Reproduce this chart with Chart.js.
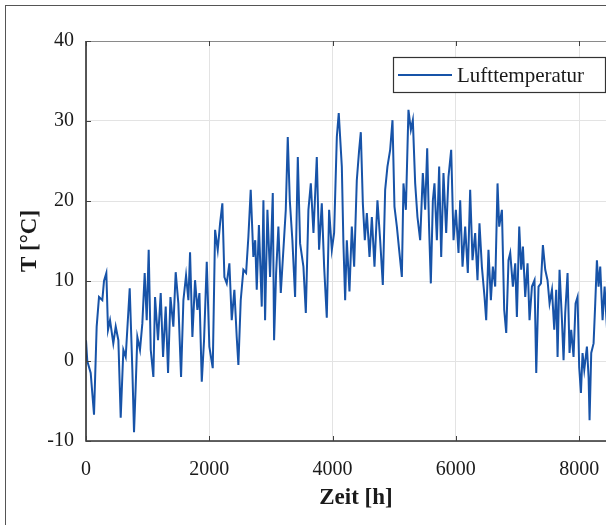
<!DOCTYPE html>
<html>
<head>
<meta charset="utf-8">
<script src="https://cdn.jsdelivr.net/npm/chart.js@4.4.1/dist/chart.umd.min.js"></script>
<style>
  html, body { margin:0; padding:0; background:#fff; overflow:hidden; }
  #wrap { position:absolute; left:0; top:0; width:640px; height:525px; }
  #frame { position:absolute; left:5px; top:5px; width:700px; height:600px;
           border:1.5px solid #555; box-sizing:border-box; pointer-events:none; }
</style>
</head>
<body>
<div id="wrap"><canvas id="tempChart" width="640" height="525"></canvas></div>
<div id="frame"></div>
<script>
/* DATA (hour of year, air temperature) */

const seriesLabel = "Lufttemperatur";

const hours = [
  0, 21, 76, 130, 173, 211, 265, 292, 330, 357, 390, 443, 482, 525, 563, 606, 644, 709, 752, 779,
  806, 833, 876, 914, 952, 985, 1017, 1050, 1093, 1120, 1168, 1212, 1250, 1293, 1331, 1370, 1417, 1455, 1498, 1542,
  1580, 1623, 1661, 1688, 1726, 1769, 1807, 1840, 1878, 1915, 1959, 2001, 2056, 2094, 2137, 2175, 2212, 2245, 2283, 2326,
  2364, 2407, 2445, 2472, 2510, 2553, 2597, 2634, 2672, 2715, 2745, 2770, 2805, 2851, 2878, 2905, 2943, 2986, 3030, 3051,
  3084, 3121, 3160, 3202, 3241, 3273, 3306, 3348, 3392, 3436, 3473, 3527, 3566, 3608, 3647, 3690, 3744, 3781, 3825, 3863,
  3906, 3944, 3988, 4025, 4069, 4100, 4150, 4176, 4204, 4231, 4274, 4312, 4350, 4393, 4431, 4458, 4491, 4523, 4556, 4599,
  4637, 4680, 4728, 4772, 4815, 4853, 4890, 4934, 4972, 5004, 5043, 5080, 5124, 5150, 5189, 5231, 5270, 5302, 5340, 5377,
  5421, 5464, 5502, 5535, 5565, 5594, 5627, 5653, 5692, 5729, 5762, 5799, 5843, 5880, 5924, 5962, 6000, 6043, 6070, 6108,
  6151, 6194, 6232, 6270, 6313, 6351, 6383, 6422, 6465, 6492, 6529, 6568, 6600, 6638, 6676, 6703, 6747, 6784, 6817, 6854,
  6882, 6925, 6963, 6990, 7028, 7060, 7088, 7125, 7163, 7195, 7234, 7276, 7304, 7341, 7380, 7412, 7450, 7487, 7520, 7559,
  7596, 7628, 7650, 7682, 7721, 7747, 7774, 7812, 7844, 7871, 7909, 7942, 7974, 8001, 8029, 8055, 8083, 8126, 8153, 8169,
  8196, 8234, 8261, 8288, 8315, 8342, 8380, 8413, 8453
];

const temps = [
  2.6, 0, -1.5, -6.7, 4.3, 8, 7.6, 10, 11, 3.9, 5.1, 2.2, 4.3, 2.6, -7.1, 1.4, 0.5, 9.1, -1.1, -8.9,
  -3.2, 3, 1.4, 4.7, 11, 5.1, 13.9, 1.4, -2, 8, 2.6, 8.5, 0.5, 6.8, -1.5, 8, 4.3, 11.1, 7.2, -2,
  7.6, 10.7, 7.6, 13.6, 3, 10.1, 6.4, 8.5, -2.6, 2.6, 12.4, 1.8, -0.9, 16.4, 13.9, 17.2, 19.7, 10.5, 9.7, 12.2,
  5.1, 8.9, 3, -0.5, 7.6, 11.4, 11, 15.5, 21.4, 13, 15.1, 8.9, 17, 6.8, 20.1, 5.1, 18.9, 10.5, 21, 2.6,
  11, 16.8, 8.5, 13.9, 18.9, 28, 20.1, 15.1, 8, 25.5, 14.7, 11.8, 6, 18.9, 22.2, 16, 25.5, 13.9, 19.7, 11.8,
  5.4, 18.9, 13.9, 16, 28, 31, 24.3, 14.7, 7.6, 15.1, 8.7, 16.8, 11.8, 22.6, 26.4, 28.6, 19.7, 15.1, 18.5, 13,
  18, 11.8, 20.1, 15.1, 9.5, 21.4, 24.3, 26.4, 30.1, 19.3, 16.8, 13.9, 10.5, 22.2, 18.9, 31.4, 28.9, 30.1, 22.2, 18,
  15.1, 23.5, 18.9, 26.6, 16.8, 9.7, 20.1, 22.2, 15.1, 24.3, 13, 23.5, 16, 23, 26.4, 15.1, 18.9, 13.5, 20.1, 11.8,
  16.8, 11, 21.4, 12.6, 16, 10.1, 17.2, 11.8, 8, 5.1, 13.9, 7.6, 11.8, 9.3, 22.2, 16.8, 18.9, 6.4, 3.5, 12.6,
  13.5, 9.3, 12.2, 5.5, 16.8, 11.4, 14.3, 8, 12.2, 5.1, 9.3, 10.1, -1.5, 9.3, 9.7, 14.5, 11.4, 10.1, 7.2, 8.9,
  3.9, 8.9, 0.5, 11.4, 5.1, 0.1, 6, 11, 1, 3.9, 0.5, 7.2, 8, -0.8, -4, 1, -1.1, 1.8, -2, -7.4,
  1, 2.2, 7.2, 12.6, 9.3, 11.8, 5.1, 9.3, 3.9
];

const xTicks = [0, 2000, 4000, 6000, 8000];
const yTicks = [-10, 0, 10, 20, 30, 40];

/* LINE COLOUR */

const lineBlue = "#1753a8";

const serif = "'Liberation Serif', 'Times New Roman', serif";

/* FRAME + INNER TICKS + LEGEND */

const matlabBox = {
  id: "matlabBox",
  afterDatasetsDraw(chart){

    const ctx = chart.ctx;
    const a = chart.chartArea;
    const xs = chart.scales.x;
    const ys = chart.scales.y;

    ctx.save();

    // top edge (light)
    ctx.strokeStyle = "#8a8a8a";
    ctx.lineWidth = 1;
    ctx.beginPath();
    ctx.moveTo(a.left, a.top + 0.5);
    ctx.lineTo(a.right, a.top + 0.5);
    ctx.stroke();

    // left + bottom axes
    ctx.strokeStyle = "#303030";
    ctx.lineWidth = 1.6;
    ctx.beginPath();
    ctx.moveTo(a.left, a.top);
    ctx.lineTo(a.left, a.bottom);
    ctx.lineTo(a.right, a.bottom);
    ctx.stroke();

    // inward ticks
    ctx.lineWidth = 1;
    ctx.strokeStyle = "#404040";
    xs.ticks.forEach(t => {
      const px = Math.round(xs.getPixelForValue(t.value)) + 0.5;
      ctx.beginPath();
      ctx.moveTo(px, a.bottom);
      ctx.lineTo(px, a.bottom - 5);
      ctx.moveTo(px, a.top);
      ctx.lineTo(px, a.top + 5);
      ctx.stroke();
    });
    ys.ticks.forEach(t => {
      const py = Math.round(ys.getPixelForValue(t.value)) + 0.5;
      ctx.beginPath();
      ctx.moveTo(a.left, py);
      ctx.lineTo(a.left + 5, py);
      ctx.stroke();
    });

    // legend box
    const lx = 393, ly = 57, lw = 212, lh = 35;
    ctx.fillStyle = "#fff";
    ctx.fillRect(lx, ly, lw, lh);
    ctx.strokeStyle = "#333";
    ctx.lineWidth = 1.2;
    ctx.strokeRect(lx + 0.5, ly + 0.5, lw, lh);

    ctx.strokeStyle = lineBlue;
    ctx.lineWidth = 2;
    ctx.beginPath();
    ctx.moveTo(398, 75);
    ctx.lineTo(452, 75);
    ctx.stroke();

    ctx.fillStyle = "#1a1a1a";
    ctx.font = "21px " + serif;
    ctx.textBaseline = "alphabetic";
    ctx.textAlign = "left";
    ctx.fillText(seriesLabel, 457, 82);

    ctx.restore();
  }
};

/* CHART */

const ctx =
document.getElementById(
  "tempChart"
);

const tempChart =
new Chart(ctx,{

  type:"line",

  data:{
    datasets:[{
      label:seriesLabel,
      data:hours.map((h,i)=>({x:h, y:temps[i]})),
      borderColor:lineBlue,
      borderWidth:2,
      pointRadius:0,
      tension:0,
      fill:false
    }]
  },

  options:{
    responsive:false,
    animation:false,
    devicePixelRatio:1,
    layout:{
      padding:{left:0, top:41, right:14, bottom:0}
    },
    plugins:{
      legend:{display:false},
      tooltip:{enabled:false}
    },
    scales:{
      x:{
        type:"linear",
        min:0,
        max:8760,
        afterFit(s){ s.height = 84; },
        afterBuildTicks(s){ s.ticks = xTicks.map(v => ({value:v})); },
        border:{display:false},
        grid:{color:"#e3e3e3", lineWidth:1, drawTicks:false},
        ticks:{
          padding:17,
          maxRotation:0,
          autoSkip:false,
          color:"#1a1a1a",
          callback:v => String(v),
          font:{family:serif, size:20}
        },
        title:{
          display:true,
          text:"Zeit [h]",
          color:"#1a1a1a",
          padding:{top:0, bottom:13},
          font:{family:serif, size:23, weight:"bold"}
        }
      },
      y:{
        min:-10,
        max:40,
        afterFit(s){ s.width = 86; },
        afterBuildTicks(s){ s.ticks = yTicks.map(v => ({value:v})); },
        border:{display:false},
        grid:{color:"#e3e3e3", lineWidth:1, drawTicks:false},
        ticks:{
          padding:12,
          autoSkip:false,
          color:"#1a1a1a",
          callback:v => String(v),
          font:{family:serif, size:20}
        },
        title:{
          display:true,
          text:"T [°C]",
          color:"#1a1a1a",
          padding:{top:16, bottom:0},
          font:{family:serif, size:23, weight:"bold"}
        }
      }
    }
  },

  plugins:[matlabBox]

});
</script>
</body>
</html>
